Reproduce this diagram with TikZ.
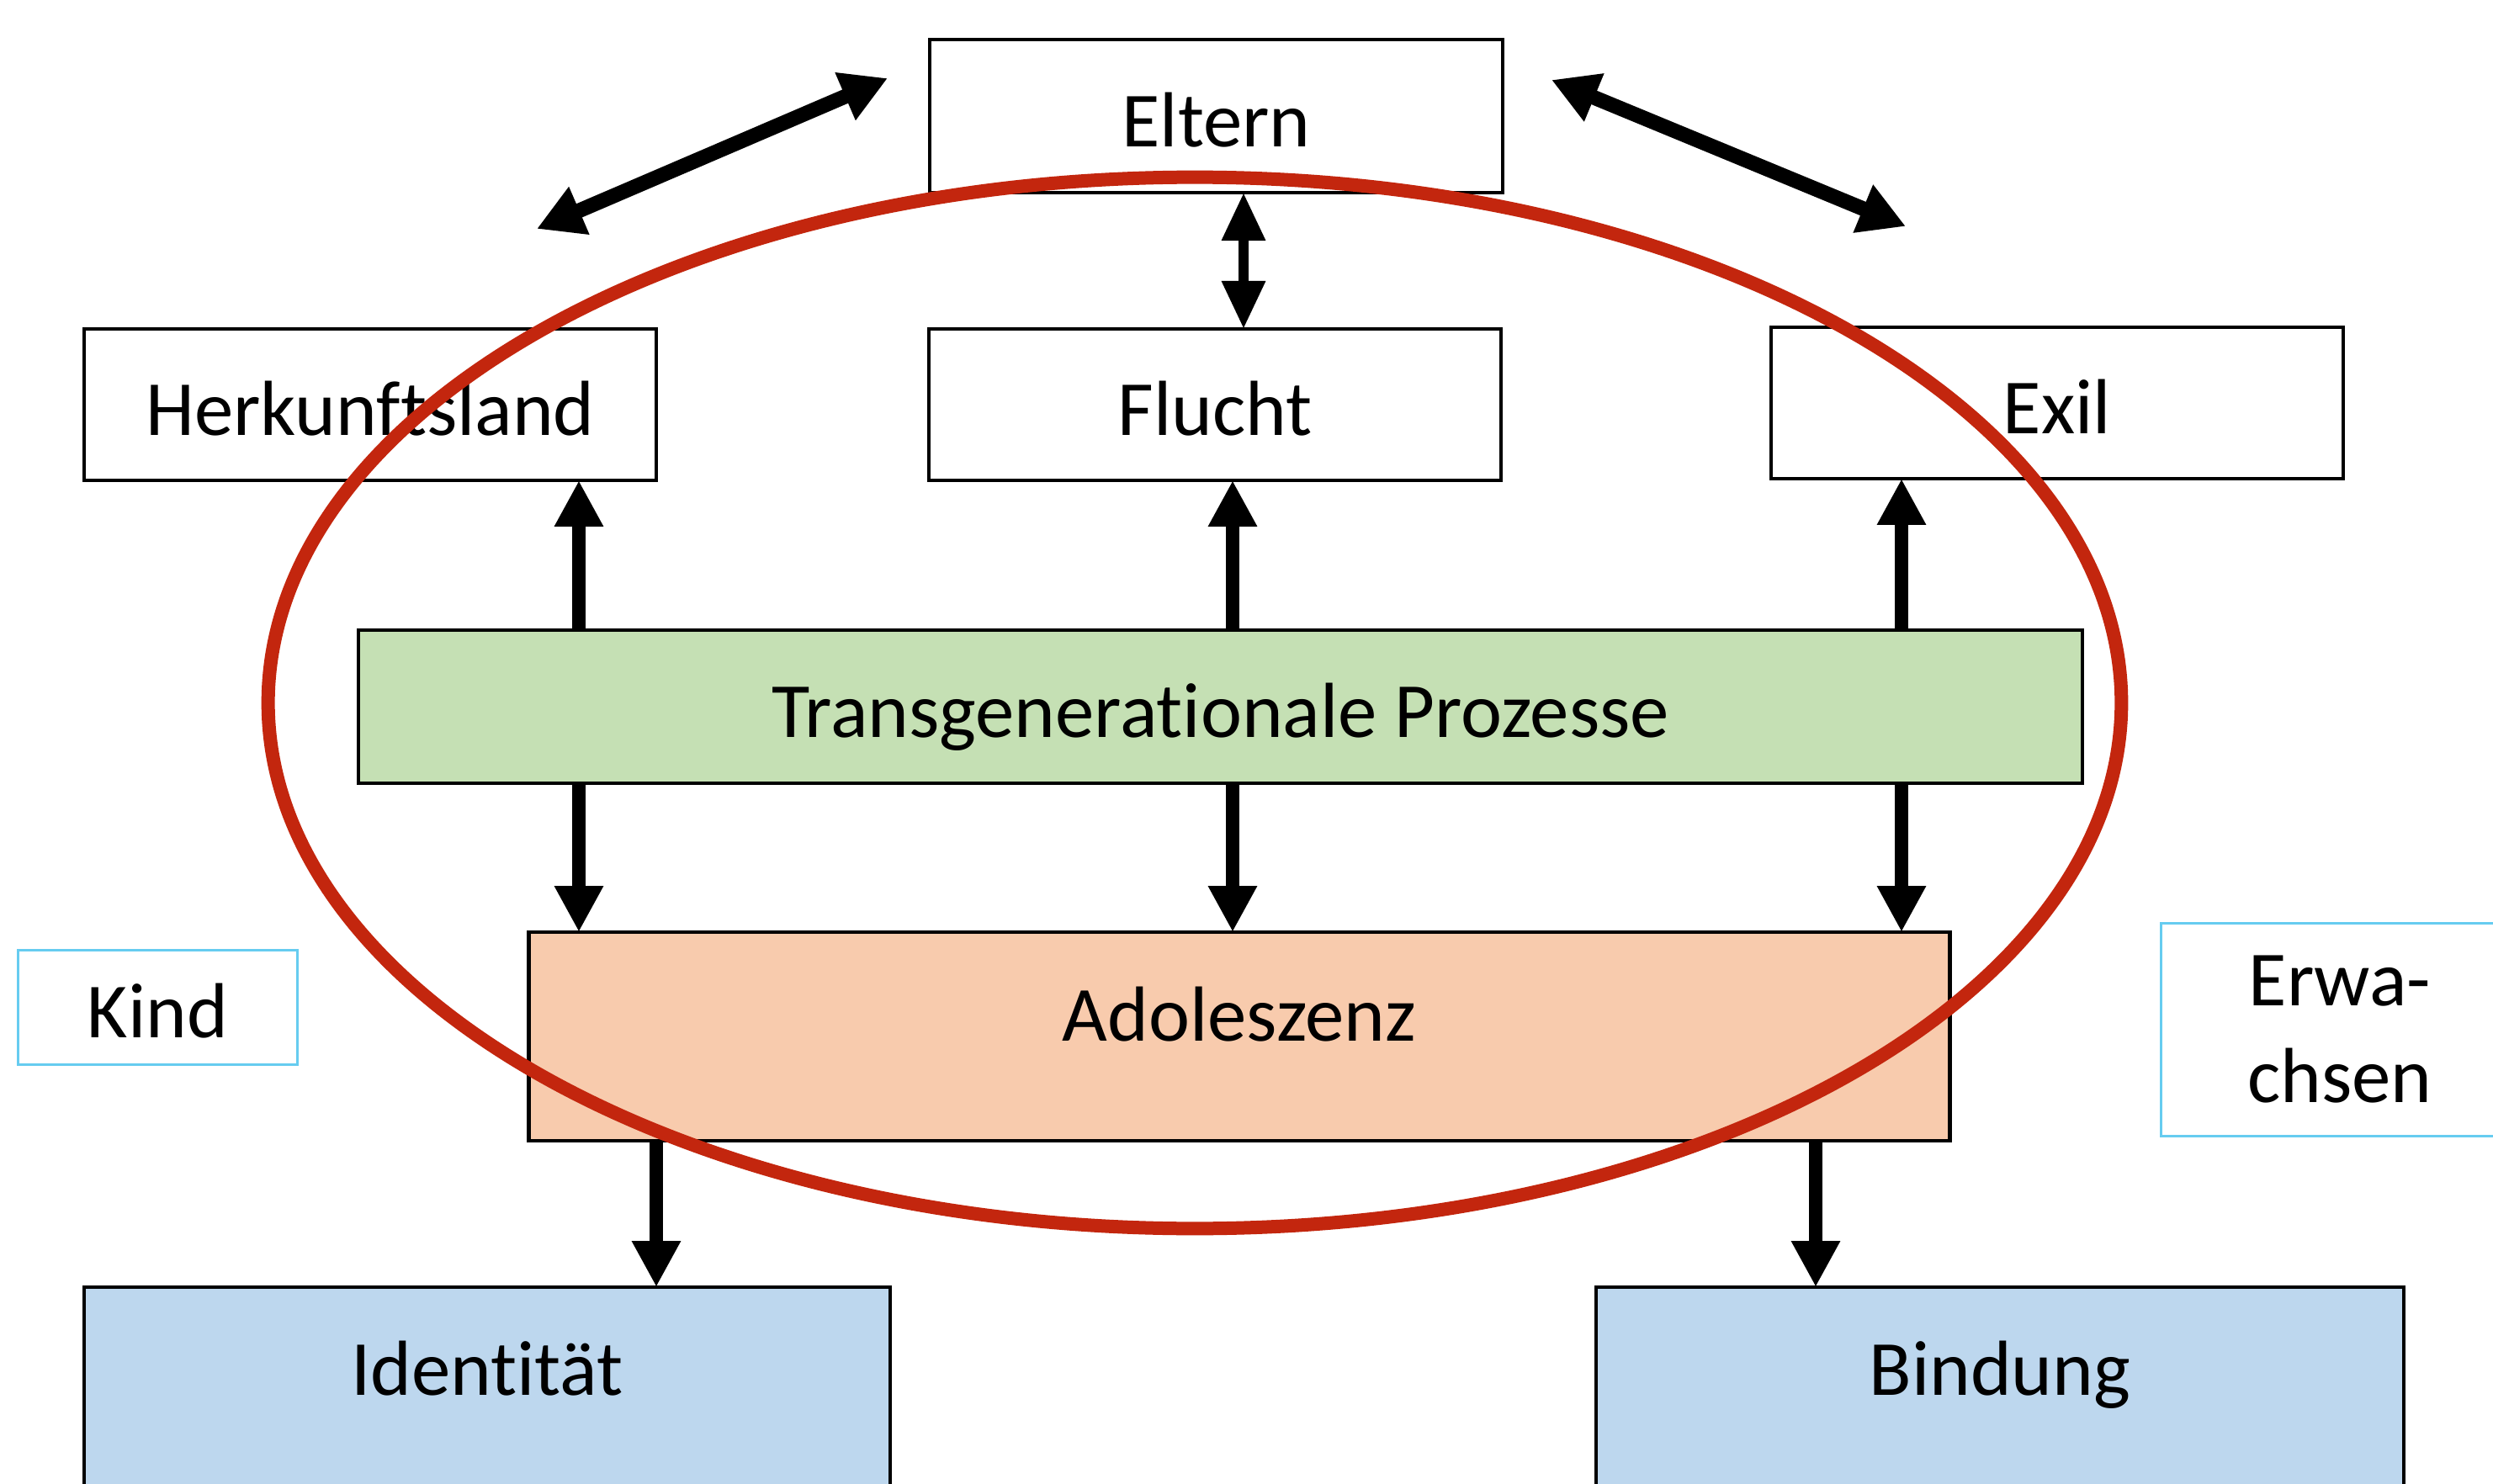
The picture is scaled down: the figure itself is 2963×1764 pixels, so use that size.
\documentclass[tikz,border=0pt]{standalone}
\usepackage{fontspec}
\setmainfont{Carlito}[Ligatures=NoCommon]
\usetikzlibrary{arrows.meta,calc}
\definecolor{tgreen}{HTML}{C5E0B4}
\definecolor{torange}{HTML}{F8CBAD}
\definecolor{tblue}{HTML}{BDD7EE}
\definecolor{tcyan}{HTML}{66CCF0}
\definecolor{tred}{RGB}{195,38,14}
\begin{document}
\begin{tikzpicture}[x=0.01cm,y=-0.01cm,
  frame/.style={draw, line width=1.15pt, inner sep=0pt, outer sep=0pt,
    font=\fontsize{26.4pt}{32.7pt}\selectfont},
  box/.style={frame, text height=20.6pt, text depth=0pt},
  arr/.style={line width=4.3pt, -{Triangle[length=15.6pt,width=15.5pt]}},
  darr/.style={line width=5pt, {Triangle[length=15.6pt,width=16.5pt]}-{Triangle[length=15.6pt,width=16.5pt]}},
  darrthin/.style={line width=3.4pt, {Triangle[length=16.2pt,width=14pt]}-{Triangle[length=16.2pt,width=14pt]}},
  ring/.style={draw=tred, line width=4.55pt}
]
\useasboundingbox (0,0) rectangle (2963,1764);
\fill[white] (0,0) rectangle (2963,1764);
\clip (0,0) rectangle (2963,1764);

% boxes
\node[box, minimum width=6.81cm, minimum height=1.82cm] (eltern) at (1445.5,138) {Eltern};
\node[box, minimum width=6.80cm, minimum height=1.80cm] (herk) at (440,481) {Herkunftsland};
\node[box, minimum width=6.80cm, minimum height=1.80cm] (flucht) at (1444,481) {Flucht};
\node[box, minimum width=6.80cm, minimum height=1.80cm] (exil) at (2445,479) {Exil};
\node[box, fill=tgreen, minimum width=20.47cm, minimum height=1.82cm] (trans) at (1450.5,840) {Transgenerationale Prozesse};
\node[box, fill=torange, minimum width=16.88cm, minimum height=2.48cm, text depth=17.2pt] (ado) at (1473,1232) {Adoleszenz};
\node[box, draw=tcyan, line width=0.85pt, minimum width=3.31cm, minimum height=1.35cm] (kind) at (187.5,1197.5) {Kind};
\node[frame, draw=tcyan, line width=0.85pt, align=center, minimum width=4.24cm, minimum height=2.52cm] (erw) at (2781,1224) {Erwa-\\chsen};
\node[box, fill=tblue, minimum width=9.58cm, minimum height=3.00cm, text depth=33.1pt] (ident) at (579,1680) {Identität};
\node[box, fill=tblue, minimum width=9.60cm, minimum height=3.00cm, text depth=33.1pt] (bind) at (2377,1680) {Bindung};

% connector positions
\coordinate (xa) at (688,0);
\coordinate (xb) at (1465,0);
\coordinate (xc) at (2260,0);
\coordinate (xd) at (780,0);
\coordinate (xe) at (2158,0);
\coordinate (xm) at (1478,0);
\coordinate (dl1) at (1055,93);
\coordinate (dl2) at (638,272);
\coordinate (dr1) at (1844,95);
\coordinate (dr2) at (2265,269);

% arrows
\draw[arr] (trans.north -| xa) -- (herk.south -| xa);
\draw[arr] (trans.north -| xb) -- (flucht.south -| xb);
\draw[arr] (trans.north -| xc) -- (exil.south -| xc);
\draw[arr] (trans.south -| xa) -- (ado.north -| xa);
\draw[arr] (trans.south -| xb) -- (ado.north -| xb);
\draw[arr] (trans.south -| xc) -- (ado.north -| xc);
\draw[arr] (ado.south -| xd) -- (ident.north -| xd);
\draw[arr] (ado.south -| xe) -- (bind.north -| xe);
\draw[darrthin] (eltern.south -| xm) -- (flucht.north -| xm);
\draw[darr] (dl1) -- (dl2);
\draw[darr] (dr1) -- (dr2);

% red ellipse
\coordinate (oc) at (1420,835.5);
\draw[ring] (oc) ellipse [x radius=11.007cm, y radius=6.245cm];
\end{tikzpicture}
\end{document}
